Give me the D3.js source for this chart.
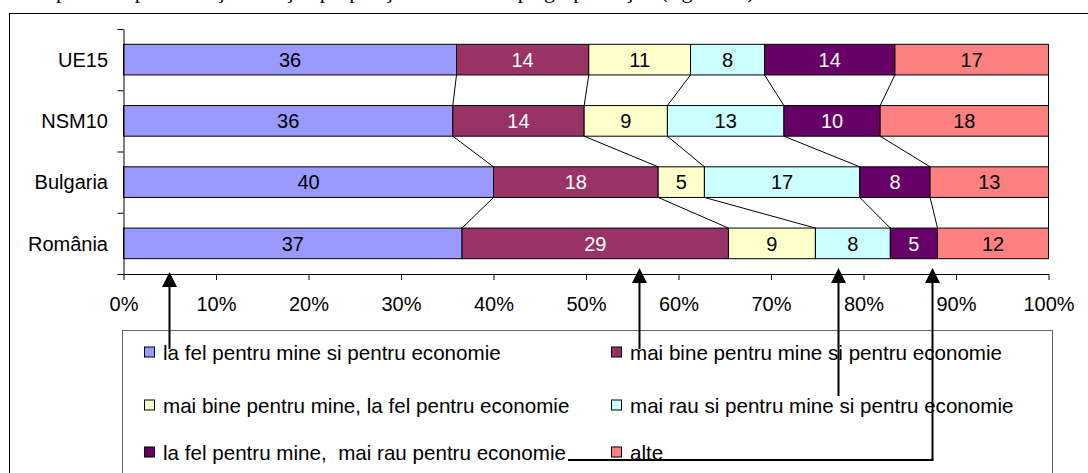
<!DOCTYPE html>
<html>
<head>
<meta charset="utf-8">
<script src="https://cdnjs.cloudflare.com/ajax/libs/d3/7.8.5/d3.min.js"></script>
<style>
  html, body { margin: 0; padding: 0; background: #fff; }
  svg { display: block; font-family: "Liberation Sans", Arial, sans-serif; }
</style>
</head>
<body>
<svg id="chart" width="1088" height="473"></svg>
<script>
// categories, top to bottom
const categories = ["UE15", "NSM10", "Bulgaria", "România"];

// answer shares (%) per category, in stacking order
const seriesNames = [
  "la fel pentru mine si pentru economie",
  "mai bine pentru mine si pentru economie",
  "mai bine pentru mine, la fel pentru economie",
  "mai rau si pentru mine si pentru economie",
  "la fel pentru mine,  mai rau pentru economie",
  "alte"
];
const laFelAmbele   = [36.0, 35.6, 40.0, 36.6];
const maiBineAmbele = [14.3, 14.2, 17.8, 28.8];
const maiBineMine   = [11.0, 9.0, 5.0, 9.4];
const maiRauAmbele  = [8.0, 12.6, 16.8, 8.1];
const maiRauEcon    = [14.1, 10.4, 7.6, 5.1];
const alte          = [16.6, 18.2, 12.8, 12.0];
const seriesValues = [laFelAmbele, maiBineAmbele, maiBineMine, maiRauAmbele, maiRauEcon, alte];

const xTicks = [0, 10, 20, 30, 40, 50, 60, 70, 80, 90, 100];

// arrows drawn over the chart: x in % of the axis
const arrowsPct = [4.9, 55.7, 77.2, 87.4];

const colors = ["#9999FF", "#993366", "#FFFFCC", "#CCFFFF", "#660066", "#FF8080"];
const labelColors = ["#000", "#fff", "#000", "#000", "#fff", "#000"];

const svg = d3.select("#chart");
const font = 20;

// cut-off line of document text above the chart (only descenders show)
svg.append("text")
  .attr("x", 40)
  .attr("y", -2)
  .attr("font-family", "'Liberation Serif', 'Times New Roman', serif")
  .attr("font-size", 22)
  .text("Opinia despre evoluţia situaţiei proprii şi a economiei pe grupe de ţări (figura 11)");

// outer chart frame
svg.append("rect")
  .attr("x", 9.5).attr("y", 13.5)
  .attr("width", 1100).attr("height", 500)
  .attr("fill", "#fff")
  .attr("stroke", "#000")
  .attr("stroke-width", 1);

// scales
const x = d3.scaleLinear().domain([0, 100]).range([123.5, 1048.5]);
const y = d3.scaleBand().domain(categories).range([29, 274])
  .paddingInner(0.5).paddingOuter(0.25);
const yEdge = d3.scaleLinear().domain([0, categories.length]).range([29, 274]);

// stacked rows
const rows = categories.map((c, i) => {
  let acc = 0;
  return seriesValues.map((vals, s) => {
    const seg = { cat: c, s, v: vals[i], x0: acc, x1: acc + vals[i] };
    acc += vals[i];
    return seg;
  });
});

// series lines between adjacent bars
const linesG = svg.append("g");
for (let i = 0; i < categories.length - 1; i++) {
  rows[i].forEach((seg, s) => {
    const next = rows[i + 1][s];
    linesG.append("line")
      .attr("x1", x(seg.x1)).attr("y1", y(categories[i]) + y.bandwidth())
      .attr("x2", x(next.x1)).attr("y2", y(categories[i + 1]))
      .attr("stroke", "#000")
      .attr("stroke-width", 1);
  });
}

// bars
const barG = svg.append("g");
rows.forEach(row => {
  barG.selectAll(null)
    .data(row)
    .enter()
    .append("rect")
    .attr("x", d => x(d.x0))
    .attr("y", d => y(d.cat))
    .attr("width", d => x(d.x1) - x(d.x0))
    .attr("height", y.bandwidth())
    .attr("fill", d => colors[d.s])
    .attr("stroke", "#000")
    .attr("stroke-width", 1);

  barG.selectAll(null)
    .data(row)
    .enter()
    .append("text")
    .attr("x", d => (x(d.x0) + x(d.x1)) / 2)
    .attr("y", d => y(d.cat) + y.bandwidth() / 2)
    .attr("dy", "0.36em")
    .attr("text-anchor", "middle")
    .attr("font-size", font)
    .attr("fill", d => labelColors[d.s])
    .text(d => d3.format(".0f")(d.v));
});

// y axis: ticks on category boundaries
const yAxisG = svg.append("g")
  .attr("transform", `translate(${x(0)},0)`)
  .call(d3.axisLeft(yEdge).ticks(categories.length).tickSize(6).tickSizeOuter(0).tickFormat(""));
yAxisG.select(".domain").attr("stroke", "#000");
yAxisG.selectAll("line").attr("stroke", "#000");

// category labels
svg.append("g").selectAll("text")
  .data(categories)
  .enter()
  .append("text")
  .attr("x", 108)
  .attr("y", d => y(d) + y.bandwidth() / 2)
  .attr("dy", "0.36em")
  .attr("text-anchor", "end")
  .attr("font-size", font)
  .attr("fill", "#000")
  .text(d => d);

// x axis
const xAxisG = svg.append("g")
  .attr("transform", `translate(0,${yEdge(categories.length)})`)
  .call(d3.axisBottom(x).tickValues(xTicks).tickSize(6).tickSizeOuter(0)
    .tickPadding(17).tickFormat(d => d + "%"));
xAxisG.select(".domain").attr("stroke", "#000");
xAxisG.selectAll("line").attr("stroke", "#000");
xAxisG.selectAll("text")
  .attr("font-size", font)
  .attr("font-family", "'Liberation Sans', Arial, sans-serif")
  .attr("fill", "#000");

// legend
const legendG = svg.append("g");
legendG.append("rect")
  .attr("x", 122.5).attr("y", 330.5)
  .attr("width", 930).attr("height", 200)
  .attr("fill", "#fff")
  .attr("stroke", "#666")
  .attr("stroke-width", 1);

const legendCols = [144, 611];
const legendRows = [352.5, 405.5, 452.5];
const items = legendG.selectAll("g.item")
  .data(seriesNames)
  .enter()
  .append("g")
  .attr("class", "item")
  .attr("transform", (d, i) => `translate(${legendCols[i % 2]},${legendRows[Math.floor(i / 2)]})`);
items.append("rect")
  .attr("x", 0.5).attr("y", -5.5)
  .attr("width", 10).attr("height", 10)
  .attr("fill", (d, i) => colors[i])
  .attr("stroke", "#000")
  .attr("stroke-width", 1);
items.append("text")
  .attr("x", 19)
  .attr("y", 0)
  .attr("dy", "0.36em")
  .attr("font-size", 20.6)
  .attr("fill", "#000")
  .style("white-space", "pre")
  .text(d => d);

// arrows from legend entries up to the axis
const arrowG = svg.append("g");
const shaftEnds = [349, 349, 396, 460];
const tips = [272, 268, 268, 268];
arrowsPct.forEach((p, i) => {
  const ax = Math.round(x(p)) + 0.5;
  arrowG.append("line")
    .attr("x1", ax).attr("y1", tips[i] + 10)
    .attr("x2", ax).attr("y2", shaftEnds[i])
    .attr("stroke", "#000").attr("stroke-width", 2);
  arrowG.append("path")
    .attr("d", `M${ax},${tips[i]} L${ax - 7.5},${tips[i] + 15} L${ax + 7.5},${tips[i] + 15} Z`)
    .attr("fill", "#000");
});
// last arrow turns left under the legend text
arrowG.append("line")
  .attr("x1", 568).attr("y1", 460)
  .attr("x2", Math.round(x(arrowsPct[3])) + 1.5).attr("y2", 460)
  .attr("stroke", "#000").attr("stroke-width", 2);
</script>
</body>
</html>
